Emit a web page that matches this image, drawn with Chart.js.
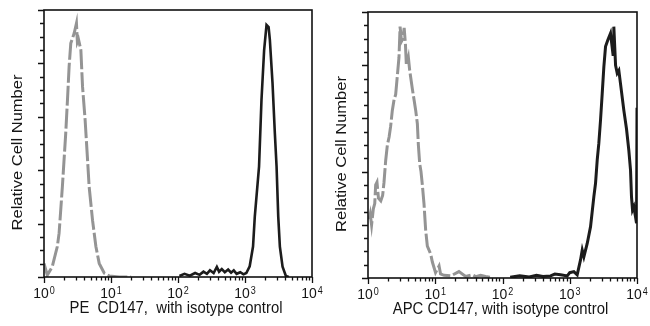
<!DOCTYPE html>
<html>
<head>
<meta charset="utf-8">
<script src="https://cdn.jsdelivr.net/npm/chart.js@4/dist/chart.umd.min.js"></script>
<style>
  body { margin: 0; background: #fff; }
  #wrap { position: relative; width: 650px; height: 326px; }
  .box { position: absolute; top: 0; width: 325px; height: 326px; }
</style>
</head>
<body>
<div id="wrap">
  <div class="box" style="left:0"><canvas id="leftChart" width="325" height="326"></canvas></div>
  <div class="box" style="left:325px"><canvas id="rightChart" width="325" height="326"></canvas></div>
</div>
<script>
// x axis decades (log scale), tick labels drawn as 10 + superscript
const decades = [1, 10, 100, 1000, 10000]
const decadeExp = ['0', '1', '2', '3', '4']

const leftTitle = 'PE  CD147,  with isotype control'
const rightTitle = 'APC CD147, with isotype control'
const yTitle = 'Relative Cell Number'

// [fluorescence, relative count %]
const leftIsotype = [
  [1.0, 5.1], [1.12, 0.7], [1.33, 3.9], [1.58, 11.4], [1.68, 16.4], [1.88, 33.8],
  [2.11, 53.8], [2.24, 66.3], [2.37, 78.8], [2.51, 87.5], [2.82, 91.3], [3.05, 95],
  [3.15, 88], [3.27, 89], [3.55, 85], [3.76, 71.3], [4.11, 58.8], [4.47, 43.8],
  [4.72, 33.8], [5.3, 21.3], [5.95, 11.4], [6.67, 5.1], [7.94, 1.4], [9.4, 0.4],
  [13.3, 0], [20, 0]
]
const leftStained = [
  [105, 0.4], [125, 1.2], [150, 0.5], [180, 1.5], [210, 0.8], [240, 2], [270, 1.2],
  [300, 2.5], [340, 1.5], [380, 3.8], [410, 2], [450, 3], [500, 1.8], [560, 2.8],
  [620, 1.6], [680, 2.5], [750, 1.2], [850, 1.8], [950, 1], [1047, 1.5], [1175, 4],
  [1318, 11.4], [1400, 22.6], [1620, 41.3], [1762, 66.3], [1930, 85], [2095, 94.4],
  [2250, 93.6], [2350, 88.8], [2576, 72.5], [2790, 53.8], [2960, 41.3], [3135, 22.6],
  [3315, 11.4], [3635, 3.9], [4075, 0.4], [4500, 0]
]
const rightIsotype = [
  [1.04, 22], [1.08, 24], [1.13, 20], [1.2, 26], [1.26, 28], [1.3, 35], [1.36, 36],
  [1.43, 30], [1.55, 29], [1.65, 31], [1.73, 36], [1.83, 44], [1.94, 50], [2.06, 53],
  [2.17, 57], [2.3, 63], [2.44, 67], [2.58, 69], [2.73, 76], [2.89, 83], [3.0, 94.5],
  [3.15, 89], [3.3, 90], [3.45, 94], [3.6, 88], [3.72, 80], [3.98, 83], [4.17, 78],
  [4.57, 71], [4.84, 67], [5.12, 63], [5.42, 58], [5.61, 50], [5.87, 43], [6.14, 40],
  [6.43, 35], [6.8, 28], [7.2, 18], [7.63, 12], [8.55, 9], [9.06, 6], [10.1, 2],
  [11.4, 4.5], [12, 1.5], [13.5, 1], [17, 0.8], [22.5, 2.4], [28.3, 0.6], [35.6, 1.2],
  [40, 0.5], [47.3, 1], [56.1, 0.6], [65, 0.3]
]
const rightStained = [
  [130, 0.3], [180, 0.8], [250, 0.4], [320, 1], [400, 0.6], [519, 0.8], [600, 1.5],
  [730, 1.2], [918, 0.8], [1000, 2], [1151, 2.4], [1290, 1.2], [1446, 6.8], [1533, 10.5],
  [1622, 8], [1819, 13], [2038, 19.3], [2283, 30.6], [2418, 35.6], [2562, 44.4],
  [2706, 50.6], [2869, 59.4], [3040, 69.4], [3214, 79.4], [3405, 87], [3683, 89.5],
  [4038, 92], [4400, 84], [4523, 94.5], [4800, 80], [5080, 77], [5370, 78], [5690, 73],
  [6373, 63], [6985, 56], [7560, 48], [8010, 40.6], [8280, 30.6], [8575, 25.6],
  [8975, 26.8], [9500, 23], [9840, 20.6], [10000, 64]
]

const FONT = "'Liberation Sans', Arial, Helvetica, sans-serif"
const SQUEEZE = 0.9 // text in the picture is narrower than it is tall

function toPoints(arr) {
  return arr.map(p => ({ x: p[0], y: p[1] }))
}

// frame, ticks and text drawn from the chart's own scales
const framePlugin = {
  id: 'frame',
  afterDraw(chart, args, opts) {
    const ctx = chart.ctx
    const area = chart.chartArea
    const xs = chart.scales.x
    const ys = chart.scales.y
    ctx.save()
    ctx.strokeStyle = '#111'
    ctx.lineWidth = 1.6
    ctx.strokeRect(area.left, area.top, area.right - area.left, area.bottom - area.top)

    // y ticks, every 5 with longer ones every 20
    ctx.lineWidth = 1.3
    ctx.beginPath()
    for (let v = 0; v <= 100; v += 5) {
      const py = Math.round(ys.getPixelForValue(v)) + 0.5
      const len = v % 20 === 0 ? 6 : 4
      ctx.moveTo(area.left, py)
      ctx.lineTo(area.left - len, py)
    }
    ctx.stroke()

    // x ticks, decades plus 2..9
    ctx.beginPath()
    decades.forEach((d, i) => {
      for (let k = 1; k <= 9; k++) {
        const v = d * k
        if (v > xs.max) break
        const px = Math.round(xs.getPixelForValue(v)) + 0.5
        const len = k === 1 ? 6 : 3.5
        ctx.moveTo(px, area.bottom)
        ctx.lineTo(px, area.bottom + len)
      }
    })
    ctx.stroke()

    // tick labels
    ctx.fillStyle = '#151515'
    ctx.textBaseline = 'alphabetic'
    decades.forEach((d, i) => {
      const px = xs.getPixelForValue(d)
      ctx.save()
      ctx.translate(px, 0)
      ctx.scale(SQUEEZE, 1)
      ctx.font = '15.5px ' + FONT
      const w1 = ctx.measureText('10').width
      ctx.font = '10px ' + FONT
      const w2 = ctx.measureText(decadeExp[i]).width
      const start = -(w1 + w2 + 1) / 2
      ctx.font = '15.5px ' + FONT
      ctx.textAlign = 'left'
      ctx.fillText('10', start, area.bottom + 20.5)
      ctx.font = '10px ' + FONT
      ctx.fillText(decadeExp[i], start + w1 + 1, area.bottom + 16.5)
      ctx.restore()
    })

    // x title
    ctx.save()
    ctx.translate((area.left + area.right) / 2 - 2, area.bottom + 31.5)
    ctx.scale(SQUEEZE, 1)
    ctx.font = '16.5px ' + FONT
    ctx.textAlign = 'center'
    ctx.textBaseline = 'middle'
    ctx.fillText(opts.title, 0, 0)
    ctx.restore()

    // y title
    ctx.save()
    ctx.translate(area.left - 26, (area.top + area.bottom) / 2 + 9)
    ctx.scale(SQUEEZE, 1)
    ctx.rotate(-Math.PI / 2)
    ctx.font = '16.5px ' + FONT
    ctx.textAlign = 'center'
    ctx.textBaseline = 'middle'
    ctx.fillText(yTitle, 0, 0)
    ctx.restore()

    ctx.restore()
  }
}

function renderChart(id, isotype, stained, title, box) {
  new Chart(document.getElementById(id), {
    type: 'line',
    data: {
      datasets: [{
        data: toPoints(isotype),
        borderColor: '#949494',
        borderWidth: 3,
        borderDash: [20, 3],
        pointRadius: 0,
        tension: 0
      }, {
        data: toPoints(stained),
        borderColor: '#1c1c1c',
        borderWidth: box.black,
        pointRadius: 0,
        tension: 0
      }]
    },
    options: {
      responsive: false,
      animation: false,
      layout: { padding: { top: box.top, right: box.right, left: 0, bottom: 0 } },
      plugins: {
        legend: { display: false },
        tooltip: { enabled: false },
        frame: { title: title }
      },
      scales: {
        x: {
          type: 'logarithmic',
          min: 1,
          max: 10000,
          ticks: { display: false },
          grid: { display: false },
          border: { display: false },
          afterFit: s => { s.height = box.xh }
        },
        y: {
          min: 0,
          max: 100,
          ticks: { display: false },
          grid: { display: false },
          border: { display: false },
          afterFit: s => { s.width = box.yw }
        }
      }
    },
    plugins: [framePlugin]
  })
}

renderChart('leftChart', leftIsotype, leftStained, leftTitle, { top: 10, right: 13, xh: 49, yw: 44, black: 2.6 })
renderChart('rightChart', rightIsotype, rightStained, rightTitle, { top: 12, right: 13, xh: 48, yw: 43, black: 3 })
</script>
</body>
</html>
